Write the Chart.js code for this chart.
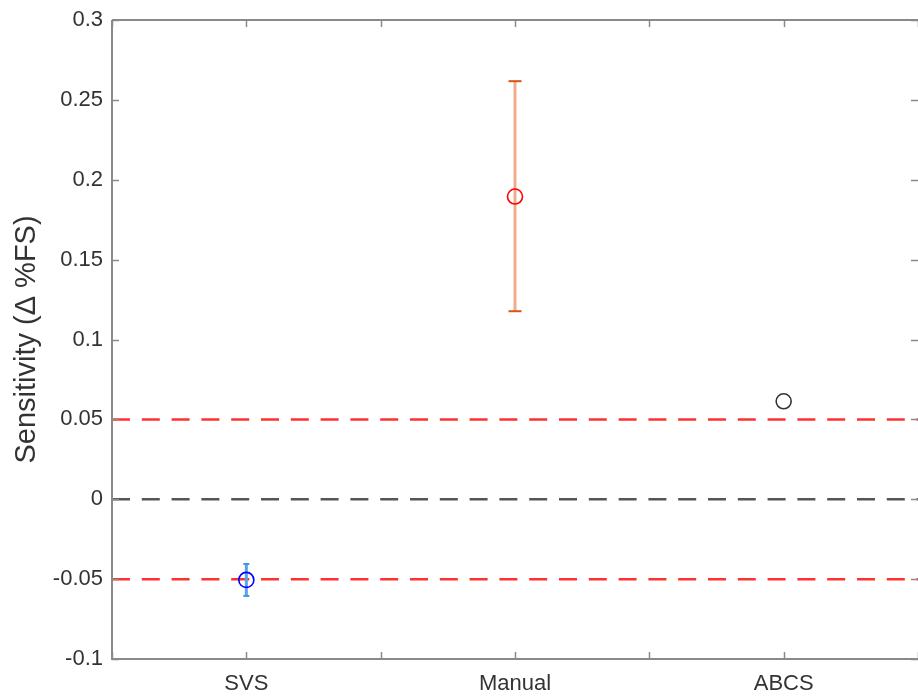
<!DOCTYPE html>
<html><head><meta charset="utf-8">
<script src="https://cdn.jsdelivr.net/npm/chart.js@4.4.1/dist/chart.umd.min.js"></script>
<style>html,body{margin:0;padding:0;background:#fff;overflow:hidden;}#wrap{width:918px;height:698px;}</style>
</head><body><div id="wrap"><canvas id="c" width="918" height="698"></canvas></div>
<script>
// ---- data ----
const categories = ['SVS', 'Manual', 'ABCS'];
const categoryPositions = [1, 2, 3];
const meanValues = [-0.0505, 0.1895, 0.0613];
const errorLow = [-0.0605, 0.1177, null];
const errorHigh = [-0.0405, 0.2617, null];
const markerColors = ['#0000ff', '#ff0000', '#333333'];
const errorLineColors = ['#5aa3ea', '#f0ad8e', '#333333'];
const errorCapColors = ['#3d95e3', '#d95319', '#333333'];
const errorCapHalfWidths = [3, 6.5, 0];
const referenceLevels = [0.05, 0, -0.05];
const referenceColors = ['#ff3030', '#555555', '#ff3030'];
const yTickValues = [-0.1, -0.05, 0, 0.05, 0.1, 0.15, 0.2, 0.25, 0.3];
const xTickValues = [0.5, 1, 1.5, 2, 2.5, 3, 3.5];
const xRange = [0.5, 3.5];
const yRange = [-0.1, 0.3];
const yAxisLabel = 'Sensitivity (\u0394 %FS)';

// ---- datasets ----
const datasets = [];
datasets.push({
  type: 'scatter',
  data: categoryPositions.map((x, i) => ({x: x, y: meanValues[i]})),
  pointStyle: 'circle',
  pointRadius: 7.5,
  pointHoverRadius: 7.5,
  pointBorderColor: markerColors,
  pointBackgroundColor: 'rgba(0,0,0,0)',
  pointBorderWidth: 1.6,
  showLine: false
});
categoryPositions.forEach((x, i) => {
  if (errorLow[i] === null || errorHigh[i] === null) return;
  datasets.push({
    type: 'line',
    data: [{x: x, y: errorLow[i]}, {x: x, y: errorHigh[i]}],
    borderColor: errorLineColors[i],
    borderWidth: 3,
    pointStyle: 'line',
    pointRadius: errorCapHalfWidths[i],
    pointHoverRadius: errorCapHalfWidths[i],
    pointBorderColor: errorCapColors[i],
    pointBorderWidth: 2,
    fill: false
  });
});
referenceLevels.forEach((lv, i) => {
  datasets.push({
    type: 'line',
    data: [{x: xRange[0], y: lv}, {x: xRange[1], y: lv}],
    borderColor: referenceColors[i],
    borderWidth: 2.5,
    borderDash: [18, 11.8],
    pointRadius: 0,
    fill: false
  });
});

const axisColor = '#8a8a8a';
const boxPlugin = {
  id: 'boxPlugin',
  afterDraw(chart) {
    const ctx = chart.ctx;
    const a = chart.chartArea;
    const xs = chart.scales.x, ys = chart.scales.y;
    const tl = 7;
    ctx.save();
    ctx.strokeStyle = axisColor;
    ctx.lineWidth = 1.5;
    ctx.beginPath();
    xs.ticks.forEach(t => {
      const px = Math.round(xs.getPixelForValue(t.value)) + 0.5;
      ctx.moveTo(px, a.bottom); ctx.lineTo(px, a.bottom - tl);
      ctx.moveTo(px, a.top); ctx.lineTo(px, a.top + tl);
    });
    ys.ticks.forEach(t => {
      const py = Math.round(ys.getPixelForValue(t.value)) + 0.5;
      ctx.moveTo(a.left, py); ctx.lineTo(a.left + tl, py);
      ctx.moveTo(a.right, py); ctx.lineTo(a.right - tl, py);
    });
    ctx.stroke();
    ctx.lineWidth = 2;
    ctx.beginPath();
    ctx.moveTo(a.left, a.top); ctx.lineTo(a.right + 2, a.top);
    ctx.moveTo(a.left, a.top); ctx.lineTo(a.left, a.bottom);
    ctx.lineTo(a.right + 2, a.bottom);
    ctx.moveTo(a.right + 1, a.top); ctx.lineTo(a.right + 1, a.bottom);
    ctx.stroke();
    ctx.restore();
  }
};

const tickFont = {family: "'Liberation Sans', Arial, sans-serif", size: 22};
new Chart(document.getElementById('c'), {
  type: 'scatter',
  data: {datasets: datasets},
  options: {
    responsive: false,
    devicePixelRatio: 1,
    animation: false,
    layout: {autoPadding: false, padding: {top: 20, right: 0, left: 0, bottom: 0}},
    plugins: {legend: {display: false}, tooltip: {enabled: false}},
    scales: {
      x: {
        type: 'linear',
        min: xRange[0], max: xRange[1],
        afterBuildTicks: s => { s.ticks = xTickValues.map(v => ({value: v})); },
        afterFit: s => { s.height = 39; s.paddingLeft = 0; s.paddingRight = 0; },
        grid: {display: false, drawTicks: false},
        border: {display: false},
        ticks: {
          autoSkip: false, maxRotation: 0, minRotation: 0,
          padding: 12, color: '#333333', font: tickFont,
          callback: v => Number.isInteger(v) ? categories[v - 1] : ''
        }
      },
      y: {
        type: 'linear',
        min: yRange[0], max: yRange[1],
        afterBuildTicks: s => { s.ticks = yTickValues.map(v => ({value: v})); },
        afterFit: s => { s.width = 112; s.paddingTop = 0; s.paddingBottom = 0; },
        grid: {display: false, drawTicks: false},
        border: {display: false},
        ticks: {
          padding: 9, color: '#333333', font: tickFont,
          callback: v => String(Math.round(v * 100) / 100)
        },
        title: {
          display: true, text: yAxisLabel, color: '#333333',
          font: {family: "'Liberation Sans', Arial, sans-serif", size: 29},
          padding: {top: 10, bottom: 0}
        }
      }
    }
  },
  plugins: [boxPlugin]
});
</script></body></html>
